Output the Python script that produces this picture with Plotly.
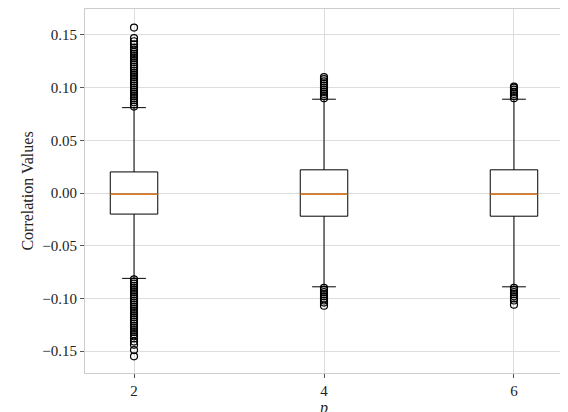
import plotly.graph_objects as go

# box statistics per p
p_vals = [2, 4, 6]
q1 = [-0.020, -0.022, -0.022]
medians = [-0.001, -0.001, -0.001]
q3 = [0.020, 0.022, 0.022]
low_whisk = [-0.081, -0.089, -0.089]
high_whisk = [0.081, 0.089, 0.089]

# outliers
out_p2 = [0.082, 0.084, 0.086, 0.088, 0.090, 0.092, 0.094, 0.096, 0.098, 0.100,
          0.102, 0.104, 0.106, 0.108, 0.110, 0.112, 0.114, 0.116, 0.118, 0.120,
          0.122, 0.124, 0.126, 0.128, 0.130, 0.132, 0.134, 0.136, 0.138, 0.141,
          0.144, 0.147, 0.157,
          -0.082, -0.084, -0.086, -0.088, -0.090, -0.092, -0.094, -0.096, -0.098,
          -0.100, -0.102, -0.104, -0.106, -0.108, -0.110, -0.112, -0.114, -0.116,
          -0.118, -0.120, -0.122, -0.124, -0.126, -0.128, -0.130, -0.132, -0.134,
          -0.136, -0.138, -0.141, -0.144, -0.149, -0.155]
out_p4 = [0.090, 0.092, 0.094, 0.096, 0.098, 0.100, 0.102, 0.104, 0.106, 0.108, 0.110,
          -0.090, -0.092, -0.094, -0.096, -0.098, -0.100, -0.102, -0.104, -0.107]
out_p6 = [0.090, 0.092, 0.094, 0.096, 0.098, 0.100, 0.101,
          -0.090, -0.092, -0.094, -0.096, -0.098, -0.100, -0.102, -0.106]
outliers = [out_p2, out_p4, out_p6]

FONT = "Liberation Serif"

fig = go.Figure()
for i, p in enumerate(p_vals):
    fig.add_trace(go.Box(
        x=[p], q1=[q1[i]], median=[medians[i]], q3=[q3[i]],
        lowerfence=[low_whisk[i]], upperfence=[high_whisk[i]],
        boxpoints=False, width=0.5, whiskerwidth=0.5,
        fillcolor="white", line=dict(color="black", width=1),
        showlegend=False, hoverinfo="skip"))
    fig.add_trace(go.Scatter(
        x=[p - 0.25, p + 0.25], y=[medians[i], medians[i]], mode="lines",
        line=dict(color="#ff7f0e", width=1.3), showlegend=False))
    fig.add_trace(go.Scatter(
        x=[p] * len(outliers[i]), y=outliers[i], mode="markers",
        marker=dict(symbol="circle-open", size=7, color="black", line=dict(width=1.2)),
        showlegend=False))

axis_style = dict(showgrid=True, gridcolor="#dddddd", gridwidth=1, zeroline=False,
                  showline=True, linecolor="#cccccc", mirror=True, automargin=False,
                  ticks="outside", ticklen=4, tickcolor="#555555",
                  tickfont=dict(family=FONT, size=15, color="#222222"))
fig.update_xaxes(range=[1.484, 6.516], tickvals=p_vals, title_text="<i>p</i>",
                 title_standoff=2, title_font=dict(family=FONT, size=16), **axis_style)
fig.update_yaxes(range=[-0.1708, 0.1746], tickvals=[-0.15, -0.10, -0.05, 0, 0.05, 0.10, 0.15],
                 tickformat=".2f", title_text="Correlation Values", title_standoff=4,
                 title_font=dict(family=FONT, size=16), **axis_style)
fig.update_layout(
    width=568, height=412, plot_bgcolor="white", paper_bgcolor="white",
    margin=dict(l=77, r=13, t=1, b=47),
    font=dict(family=FONT, size=15, color="#222222"))

fig.write_html("out.html")
